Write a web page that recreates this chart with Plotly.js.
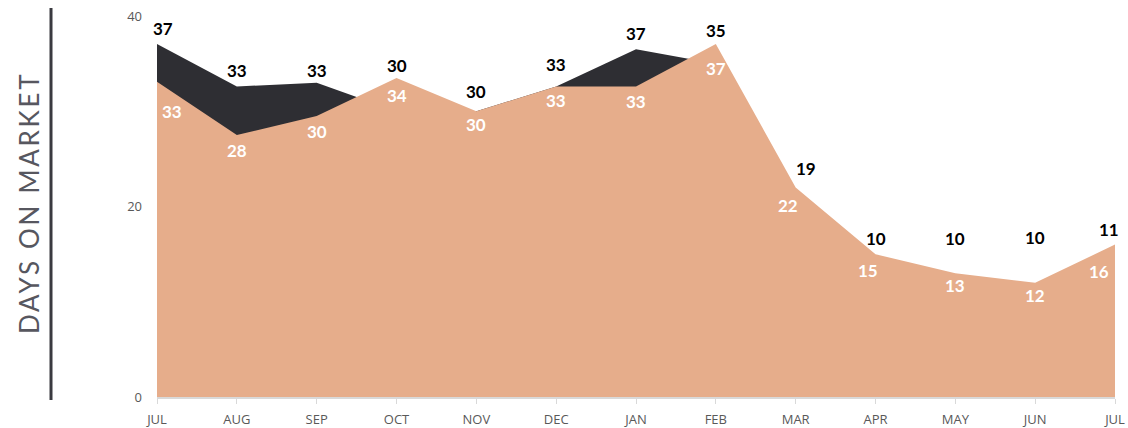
<!DOCTYPE html>
<html>
<head>
<meta charset="utf-8">
<script src="https://cdn.plot.ly/plotly-3.0.1.min.js"></script>
<style>
html,body{margin:0;padding:0;background:#fff;}
#chart{width:1128px;height:428px;}
</style>
</head>
<body>
<div id="chart"></div>
<script>
const months = ["JUL","AUG","SEP","OCT","NOV","DEC","JAN","FEB","MAR","APR","MAY","JUN","JUL"];
const darkValues = [37.05, 32.6, 33.0, 30, 30, 32.6, 36.5, 35, 19, 10, 10, 10, 11];
const salmonValues = [33.1, 27.5, 29.5, 33.5, 30, 32.6, 32.6, 37.05, 22, 15, 13, 12, 16];
const yTickVals = [0, 20, 40];

const xs = months.map((m, i) => i);

const darkColor = "#2e2e33";
const salmonColor = "#e6ad8b";

// label placement offsets (pixels), styling only
const darkLabelShift = [16, 16, 12, 12, 20, 22, 16, 14, 19, 16, 35, 45, 15];
const salmonLabelShift = [-30, -15, -15, -18, -13, -14, -15, -24, -18, -16, -12, -13, -27];
const salmonLabelXShift = [15, 0, 0, 0, 0, 0, 0, 0, -8, -8, 0, 0, -16];

const traces = [
  {x: xs, y: darkValues, type: "scatter", mode: "lines", fill: "tozeroy",
   line: {width: 0, color: darkColor}, fillcolor: darkColor, hoverinfo: "skip"},
  {x: xs, y: salmonValues, type: "scatter", mode: "lines", fill: "tozeroy",
   line: {width: 0, color: salmonColor}, fillcolor: salmonColor, hoverinfo: "skip"}
];

const labelFont = "Lato, 'Open Sans', sans-serif";
const annotations = [];
xs.forEach((x, i) => {
  const top = Math.max(darkValues[i], salmonValues[i]);
  annotations.push({x: x, y: top, xref: "x", yref: "y", text: String(Math.round(darkValues[i])),
    showarrow: false, yshift: darkLabelShift[i], xshift: (i === 0 ? 6 : (i === 8 ? 10 : (i === 12 ? -6 : 0))),
    font: {family: labelFont, size: 17, color: "#000", weight: "bold"}});
  annotations.push({x: x, y: salmonValues[i], xref: "x", yref: "y", text: String(Math.round(salmonValues[i])),
    showarrow: false, yshift: salmonLabelShift[i], xshift: salmonLabelXShift[i],
    font: {family: labelFont, size: 17, color: "#fff", weight: "bold"}});
});

const W = 1128, H = 428, ml = 157, mr = 13, mt = 16, mb = 31;
const pw = W - ml - mr, ph = H - mt - mb;
annotations.push({x: (29 - ml) / pw, y: (H - mb - 203) / ph, xref: "paper", yref: "paper",
  text: "DAYS ON MARKET", showarrow: false, textangle: -90,
  xanchor: "center", yanchor: "middle",
  font: {family: "Lato, 'Open Sans', sans-serif", size: 26, color: "#57575f"}});

const layout = {
  width: W, height: H,
  margin: {l: ml, r: mr, t: mt, b: mb, pad: 0},
  paper_bgcolor: "#fff", plot_bgcolor: "#fff",
  showlegend: false,
  font: {family: "'Open Sans', Lato, sans-serif", color: "#595959"},
  xaxis: {
    range: [0, 12], tickvals: xs, ticktext: months,
    showgrid: false, zeroline: false,
    showline: true, linecolor: "#d9d9d9", linewidth: 2,
    ticks: "outside", ticklen: 5, tickcolor: "#d9d9d9", tickwidth: 1,
    ticklabelstandoff: 4,
    tickfont: {size: 13, color: "#595959"}, fixedrange: true
  },
  yaxis: {
    range: [0, 40], tickvals: yTickVals, ticktext: yTickVals.map(String),
    showgrid: false, zeroline: false, showline: false, ticks: "",
    ticklabelstandoff: 14,
    tickfont: {size: 13, color: "#595959"}, fixedrange: true
  },
  shapes: [{type: "line", xref: "paper", yref: "paper",
    x0: (51 - ml) / pw, x1: (51 - ml) / pw,
    y0: (H - mb - 8) / ph, y1: (H - mb - 400) / ph,
    line: {color: "#3a3a40", width: 3}}],
  annotations: annotations
};

Plotly.newPlot("chart", traces, layout, {displayModeBar: false, staticPlot: true}).then(() => {
  document.querySelectorAll(".annotation-text").forEach(t => {
    if (t.textContent === "DAYS ON MARKET") t.style.letterSpacing = "2.7px";
  });
});
</script>
</body>
</html>
